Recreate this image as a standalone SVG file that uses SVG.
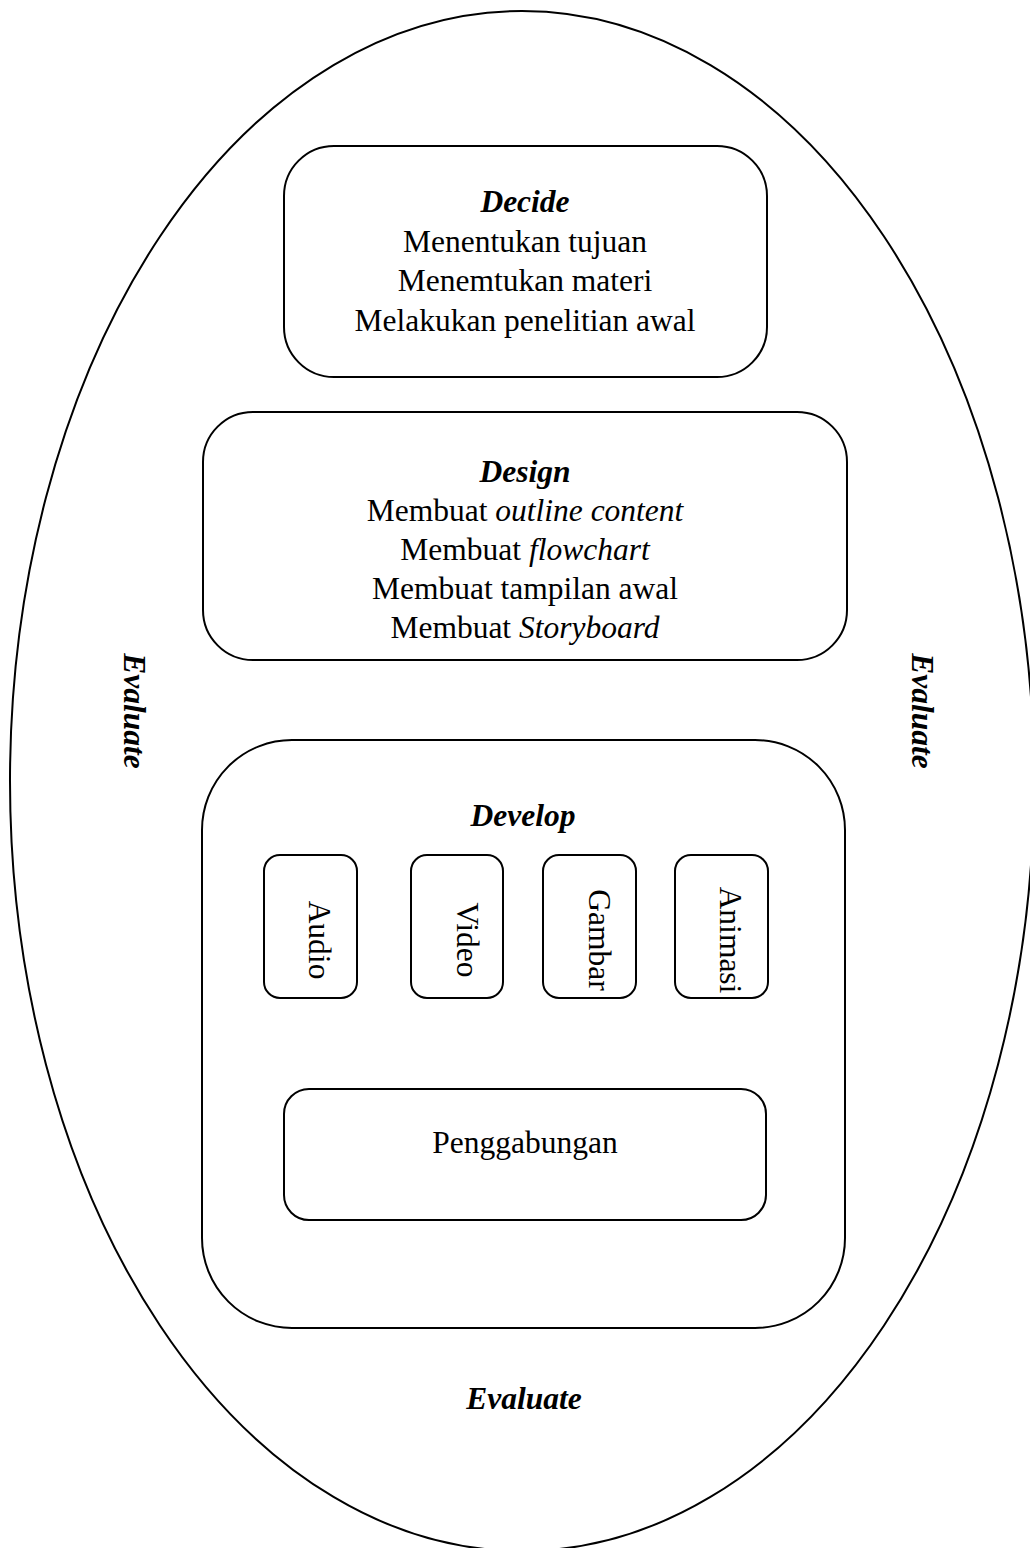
<svg xmlns="http://www.w3.org/2000/svg" width="1030" height="1548" viewBox="0 0 1030 1548">
<style>
.s{fill:none;stroke:#000;stroke-width:2}
.t{font-family:"Liberation Serif","Times New Roman",serif;font-size:31.5px;fill:#000;text-anchor:middle}
.bi{font-weight:bold;font-style:italic}
.i{font-style:italic}
</style>
<rect width="1030" height="1548" fill="#fff"/>
<g id="evaluate-ellipse">
<ellipse class="s" cx="522" cy="781" rx="512" ry="770"/>
<text class="t bi" x="524" y="1409">Evaluate</text>
<text class="t bi" transform="translate(124,711) rotate(90)">Evaluate</text>
<text class="t bi" transform="translate(912,711) rotate(90)">Evaluate</text>
</g>
<g id="decide">
<rect class="s" x="284" y="146" width="483" height="231" rx="50"/>
<text class="t bi" x="525" y="212">Decide</text>
<text class="t" x="525" y="252">Menentukan tujuan</text>
<text class="t" x="525" y="291">Menemtukan materi</text>
<text class="t" x="525" y="331">Melakukan penelitian awal</text>
</g>
<g id="design">
<rect class="s" x="203" y="412" width="644" height="248" rx="50"/>
<text class="t bi" x="525" y="482">Design</text>
<text class="t" x="525" y="521">Membuat <tspan class="i">outline content</tspan></text>
<text class="t" x="525" y="560">Membuat <tspan class="i">flowchart</tspan></text>
<text class="t" x="525" y="599">Membuat tampilan awal</text>
<text class="t" x="525" y="638">Membuat <tspan class="i">Storyboard</tspan></text>
</g>
<g id="develop">
<rect class="s" x="202" y="740" width="643" height="588" rx="90"/>
<text class="t bi" x="523" y="826">Develop</text>
</g>
<g id="audio">
<rect class="s" x="264" y="855" width="93" height="143" rx="16"/>
<text class="t" transform="translate(309,940) rotate(90)">Audio</text>
</g>
<g id="video">
<rect class="s" x="411" y="855" width="92" height="143" rx="16"/>
<text class="t" transform="translate(457,940) rotate(90)">Video</text>
</g>
<g id="gambar">
<rect class="s" x="543" y="855" width="93" height="143" rx="16"/>
<text class="t" transform="translate(589,940) rotate(90)">Gambar</text>
</g>
<g id="animasi">
<rect class="s" x="675" y="855" width="93" height="143" rx="16"/>
<text class="t" transform="translate(720,940) rotate(90)">Animasi</text>
</g>
<g id="penggabungan">
<rect class="s" x="284" y="1089" width="482" height="131" rx="25"/>
<text class="t" x="525" y="1153">Penggabungan</text>
</g>
<g id="connectors"></g>
</svg>
